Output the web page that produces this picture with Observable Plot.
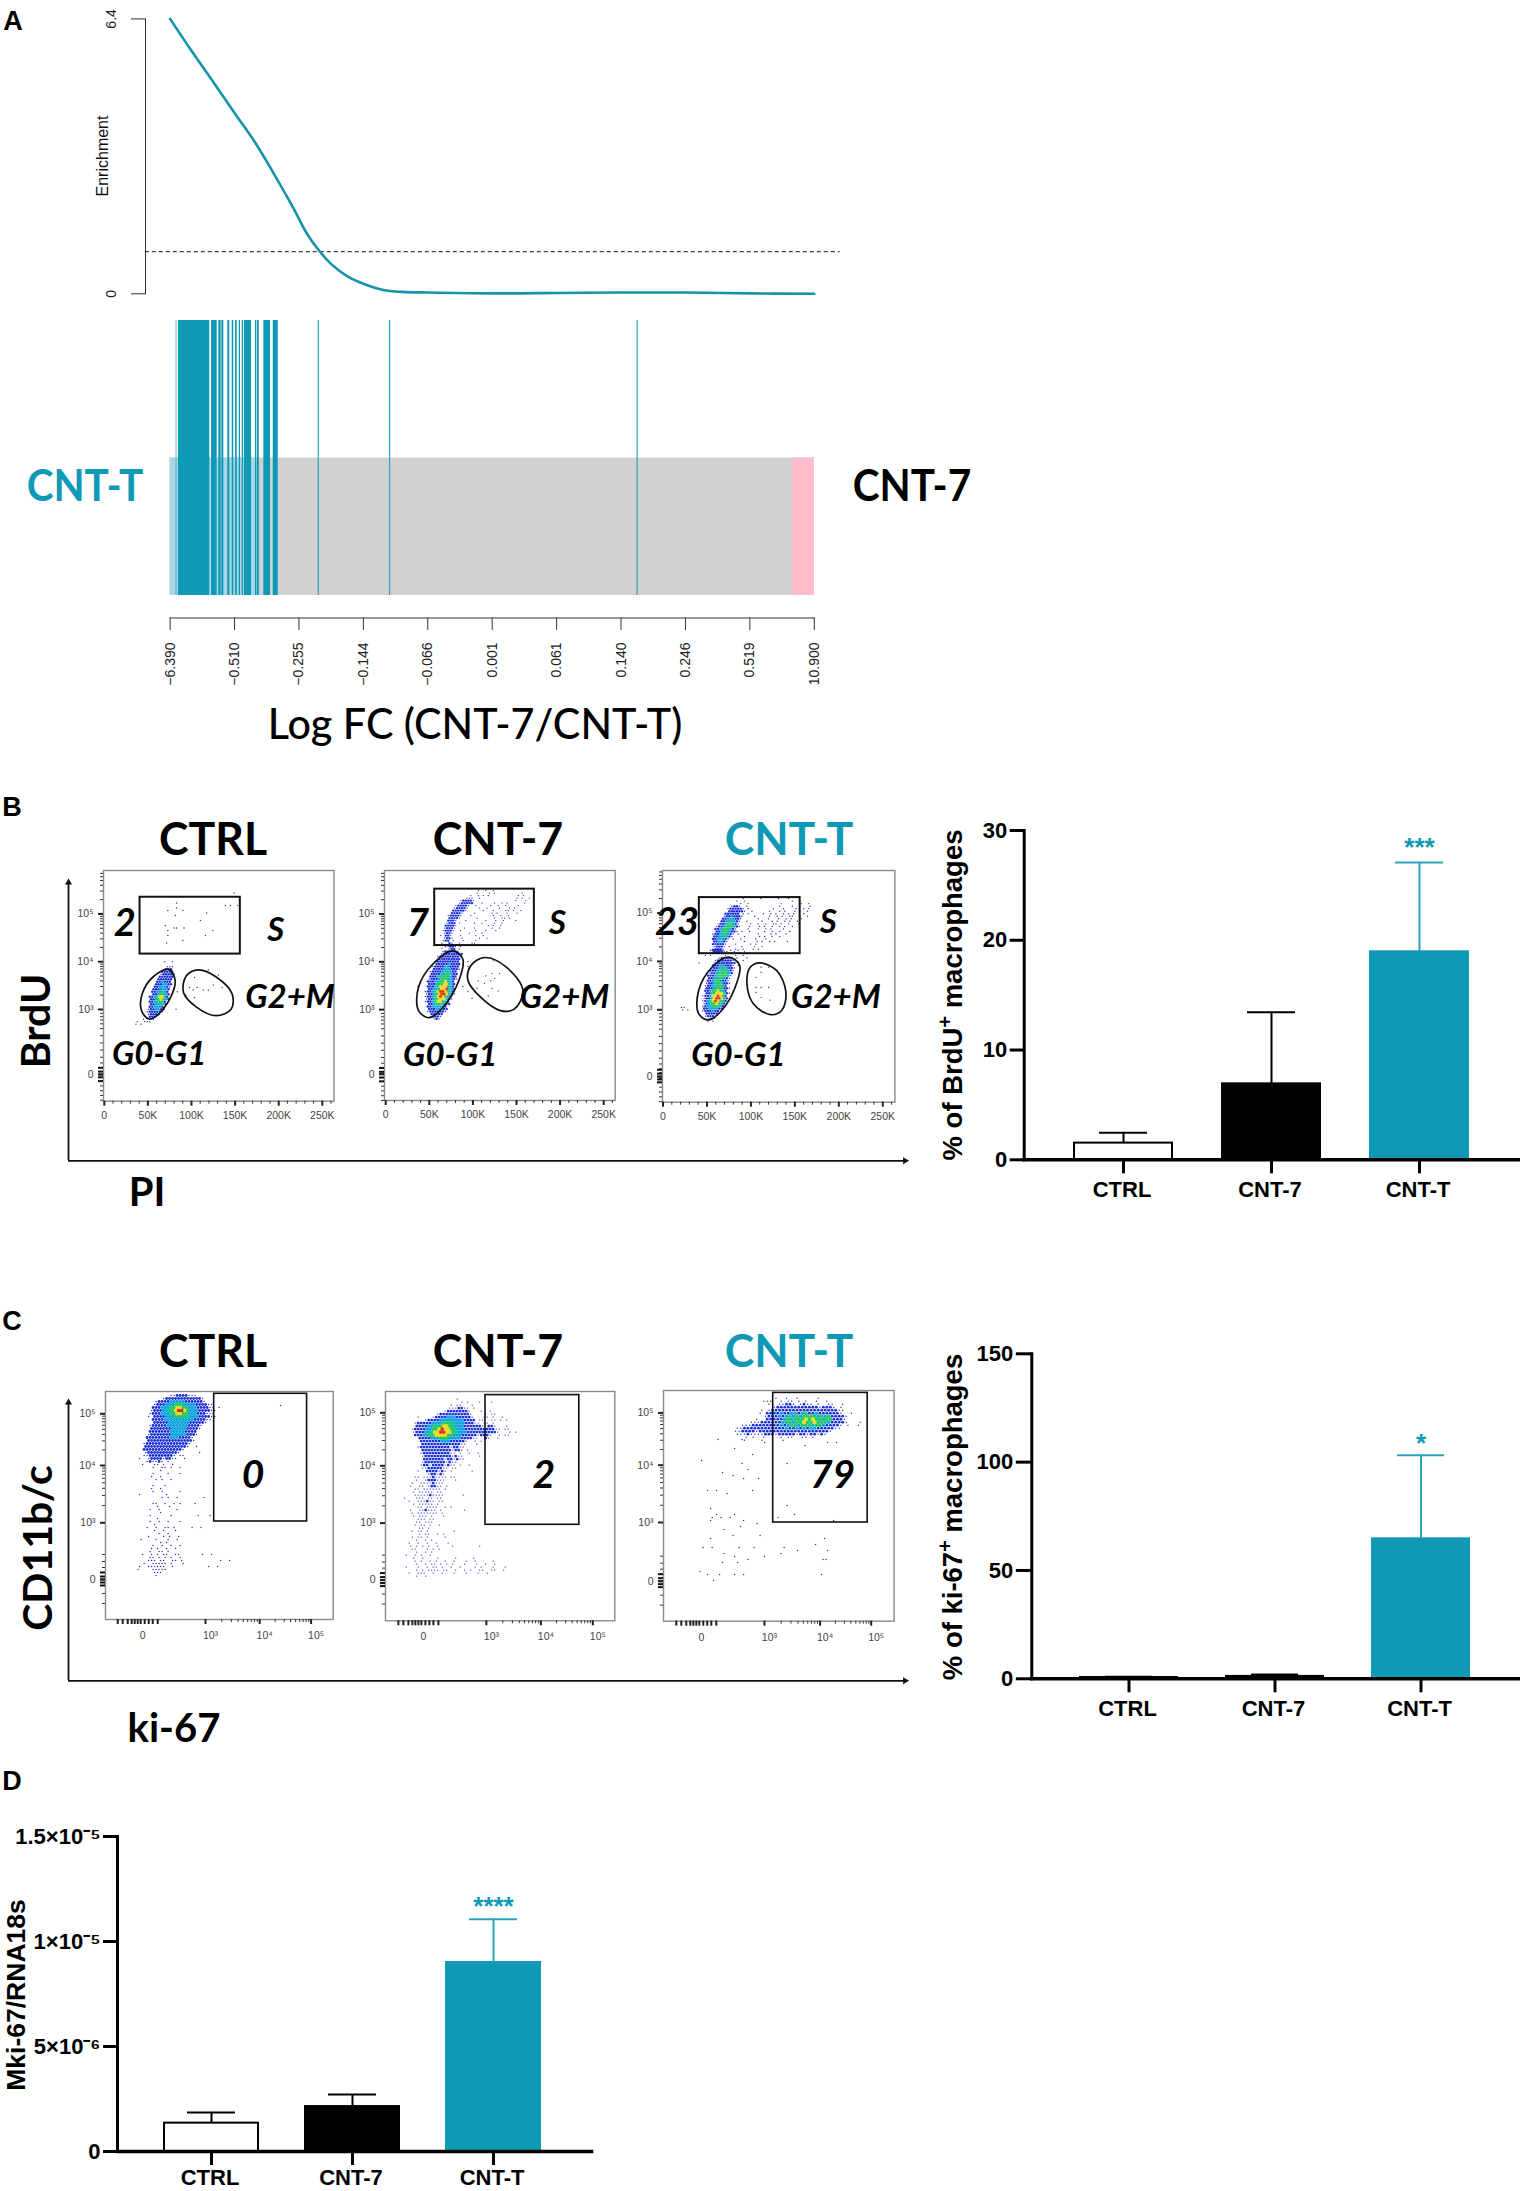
<!DOCTYPE html>
<html><head><meta charset="utf-8">
<script src="https://cdn.jsdelivr.net/npm/d3@7"></script>
<script src="https://cdn.jsdelivr.net/npm/@observablehq/plot@0.6"></script>
<style>
html,body{margin:0;padding:0;background:#fff;overflow:hidden}
#page{position:relative;width:1520px;height:2191px;overflow:hidden;background:#fff}
#page svg{position:absolute;overflow:visible;background:transparent}
.t{position:absolute;white-space:nowrap;line-height:1;transform-origin:center}
sup{font-size:.72em;line-height:0}
</style></head><body><div id="page"></div>
<script>
const TEAL="#0f99b4", SANS="Liberation Sans", HEAD="Lato";
/* ---------- panel A data ---------- */
const enrichRank=[0,3.4,6.8,10,13.3,16.2,19.2,21.2,23.2,25.1,27.6,30.1,33.1,36,40,50,60,70,80,90,100];
const enrichValue=[6.4,5.64,4.91,4.21,3.5,2.77,1.98,1.41,.99,.68,.4,.23,.09,.045,.03,.01,.02,.03,.03,.01,0];
const enrichTicks=[0,6.4], enrichCutoff=.98;
const barcodeStart=[.95,1.3,6.43,7.56,8.03,8.96,9.64,10.16,10.73,11.2,11.55,13.26,13.52,14.55,16.01];
const barcodeEnd=[1.05,6.16,7.31,7.93,8.34,9.27,9.89,10.42,10.93,11.4,12.64,13.42,13.84,15.59,16.79];
const barcodeThin=[23,34.07,72.5];
const rankTicks=[0,10,20,30,40,50,60,70,80,90,100];
const rankLabels=["−6.390","−0.510","−0.255","−0.144","−0.066","0.001","0.061","0.140","0.246","0.519","10.900"];
/* ---------- bar chart data ---------- */
const groups=["CTRL","CNT-7","CNT-T"], groupFill=["#ffffff","#000000",TEAL], groupLine=["#000000","#000000",TEAL], errLine=["#000000","#000000","#2aa3bb"];
const brduMean=[1.52,6.92,18.95], brduErr=[2.46,13.45,27.09], brduStars=["","","***"];
const kiMean=[.6,1.1,64.6], kiErr=[.9,2,103.2], kiStars=["","","*"];
const mkiMean=[1.35e-6,2.14e-6,9e-6], mkiErr=[1.86e-6,2.71e-6,1.106e-5], mkiStars=["","","****"];
const mkiTicks=[0,5e-6,1e-5,1.5e-5], mkiTickLabels=["0","5×10⁻⁶","1×10⁻⁵","1.5×10⁻⁵"];
/* ---------- flow cytometry: PI (K) / BrdU (decades) ---------- */
const piTicks=[0,50,100,150,200,250];
const piMinor=[10,20,30,40,60,70,80,90,110,120,130,140,160,170,180,190,210,220,230,240,260];
const b1S=[{x:41.3,y:5.49,rows:["","                                     .","","","",
"              .","                                  . .  .","              .","           .     .","                          .","              .","",
"                        .","","          .","             ..  .","           .                 .","","           .              .","","                 .","          ."]},
{x:92,y:3.88,rows:["","         .","","             .","    .","","","           .","  .  .         .","   .   . .","","."
,"    ."]},
{x:34.9,y:4.0,rows:["            .  .","","             ...","            bbb","           bbbbb","          .bbbbb","          bbbbbb","         bbbbbb","         bbcbbb","        bbbccbb","        bbcccb.","       bbbcccb","       bbccgcb   .","       bbcggcb","      bbcgyycb","      bbcgygcb","      bbcgggb","      bbccgcb","      bbcccb","     .bbccbb    .","     .bbbbb.","     .bbbb","      bbb","   .   .",
" .  ...",". ."]}];
const b2S=[{x:54.5,y:5.49,rows:[
"                  .  .  .","                 .    . .          .","               .  . . .           . .","             ...  .              . .  .","           .bbbb.                .   .","          .bbbbb   .    .  . .      .","         .bbbb.  .     .  .  .    .","        .bbbb.    .  .    .   . .","        bbbbb.      .   .    .. .  .","       bbbb.    .      . .   .   .","      .bbbb.   .        .  .  .","      bbbb.      .      .  .. .","      bbb.   .       .   .  .    .","     .bbb .     .  .    .  .","     bbbb.            . .  .","    .bbb.   .   .      .  .","    .bbb.  .     .   .   .","    .bb.      .    .","   . bb.   .     .  .","    .bb.   .      .  .","    .bb .   .    .","   .  b.  .    ..","     .b.  .","   ."]},
{x:34,y:4.32,rows:["            . bb. .","             .bb .","           .bbbbb.","          .bbbbbbbb","         .bbbbbbbb.","         bbbbbbbbb","        .bbbbbbbbb   .","        bbbbbcbbbb","       .bbbbccbbbb   .","       bbbbcccbbb.","      .bbbbcgccbb","      bbbbccggcbb","      bbbcggggcbb","     .bbbcgggccb.","     bbbccggyccb","     bbbcggyygcb"," .   bbbcgyyyccb   .","     bbccgyyrgcb","    .bbcgyrrygcb     .","    .bbcgyrrygb.","    .bbcgyrygcb","    .bbcgyyycb.","    .bbcgyygcb","     bbcgggcbb","     bbcccccb","     bbbcccbb","     .bbbbbb.","      bbbbb","      .bbb.","       .b."]},
{x:97.5,y:4.02,rows:["         .","","","","","        .  .","      .","         .","   .    .","     .","","  .     .","           .","","       .",". "]}];
const b3S=[{x:42.4,y:5.3,rows:["                 .      .      .   .","              .  .                  .  .","                .  .            .       .  .","            .bb.  .            .    .  .   .","           .bbbbb. .         .   .    .  . .","           bbbbbb.  .      .   . .   . .  .","          bbbbbb . .     .  . .  . . .   .","         .bbcbbb.    .     .  . .  ..  .  .","         bbcccbb.      .   .   .  . .   .","        bbccgcb.  .     .   . .  . .  .","       .bbcggcb.    .  .  .  .. .  .   .","      .bbcgggcb.   .   . .  .  . .  .","      bbcgggcb.    .   .  . .    .","      bbcggcbb. .  .     .  .  .   .","     .bbcggcb. .       .    . .   .","     bbccgcb.    .     . .  .  .","     bbcccb. .  .     .   .","     bbccb.      .    . .  . .    .","     bbbbb.   .     . .","     .bbb. .    .    .  .","     .bbb.    .  .   . .","     bbbb..  .   ."]},
{x:36.7,y:4.23,rows:["      .bbbb.  .  .","      .bb.    . ..","    . .     .   .  .","         .bbbb. .   .","        .bbbbbb.   .",
" .     .bbbbbbbb","       bbbccbbb. .","      .bbccgcbb.","      bbbcgggcb.","     .bbcggggcb","     bbbcggggc.","     bbccggcb.","     bbcggcbb.","    .bbcgggbb.","    .bbcgggcb","    bbbcgggbb.","    bbcggygcb","    bbcgyyygb.","   .bbcyyrygb","   .bbgyrrygb","   .bcgyrygcb.","   .bcggyggb","   .bccgggcb","   bbccgcbb","   .bbbcbb.","    bbbbb","    .bbb.","     .b.","     . ."]},
{x:21,y:3.05,rows:["..",". ."]},
{x:103,y:3.88,rows:["   .  .","","   .",""," .","","",""," . .  .",""," .","","   .","      ."]}];
/* ---------- flow cytometry: ki-67 / CD11b (display channels) ---------- */
const c1S=[{x:29.6,y:224,rows:["            ..bbbb...","         .bbbbbbbbbbbb.","       .bbbbcccccbbbbbb.","      .bbbcccgggccccbbbb..","      bbbcccggyyggcccbbbb.. .","     .bbbccggyrrygcccbbbb..","     .bbbcccggyyggcccbbb...","    . bbbbcccgggggcccbbbb..","      bbbbccccccccccbbbb..","      bbbbbcccccccbbbbb.","     .bbbbbcccccccbbbb.","     bbbbbbbcccccbbbb.","     bbbbbbbcccccbbbb","    .bbbbbbbcccccbbb.","    bbbbbbbbcccbbbb.","    bbbbbbbbbbbbbbb.","   .bbbbbbbbbbbbbb.","   bbbbbbbbbbbbbb.  .","   bbbbbbbbbbbbb.","   .bbbbbbbbbb.      .","   ..bbbbbbbb. ..",
" .  .bbbb.bb..  .","    .b..b. .","  .   .. .  .","      .  .. .  .","        .","      .    .   .","     .  .","       . .  .","","      .   .","     .  .","      .  .     .",
" .        .","         . .  .        .","","      ..  .  . .    .","       .   .","     .  .     .","        .","     .      .        .   .","       .","     .  .  .   .","      .","    .  .  .. .     .  .","      .  .   .","        .  .","    .    . .  .","  .    .   .  .","        . .","      .  .  .  .","     . .  .  .","     .  .. .","  .  . . ..  ..       .  .","     .. . . .  .","    ... ..  .. .            .  .","   .  ..... .   .",
" .  ......  .           .  .",
" .    .....","      ...","       ."]},{x:175,y:214,rows:["."]}];
const c2S=[{x:14.7,y:221.7,rows:["                   .","                    . .   .   .","                 . ..   .","                ...bb.. .","               .bbbbbbb.   .  .","            .bbbbbbbbbb.    . ..","      .    .bbbbcccbbbbb.   .. .  .","        .bbbbccccccccbbbb ..  .. . .","     .bbbbbcccggggccccbbb.. .. .","     bbbbccgggyyggcccbbbbbb. bb.   .","    .bbbbccggyryyggcccbbbbbbbbbb.. ..","    .bbbccgyyrryyggcccbbbbbbbbbb.   . .","     bbbccggyyyyggcccbbbbb.bbb.  . ..","      bbbbcccgggccccbbbb..  b.  .","       bbbbbbbcccbbbbb.  . .","       bbbbbbbbbbbbb..   .","      .bbbbbbbbbb.bb..","       bbbbbbbbbb.bb. .","       .bbbbbbbbb.. .  .  .","       .bbbbbbbbb.b..     .","        bbbbbbb.bb.b..","       .bbbbbbb.b..","       .bb.bbbb.b.. .  .","       ..bbbbb.. ..","      .  bbbb.b. .      .","         .bb.b.","     .. ...b.... ..","     .  .bbb...   .","    .  ....b...","   .  .. .bb.. .","     .. ...... .","    . ..... ..","     .....b....      ."," .   ... .. ..","   .  ...b.. ..","    . ..... .","      .. ....  . .","   .  ..b... .       .","    . ....... .","    . ... .   .","      ... ..","     .. ...","     . .. .  .","      .. .","    . .. .        .","      . ..  . .","    . .. .     .","     .  . .","   .  .  .  .   .","   . . . .  .    .        .","    ..   . . .","     .  . .","  .  . .  .","    .  .    .     .     .","     . .  . .  .  .   .  .     .","     .  . .. . . .   .   .  .  .","  .   .  . .. .  .  .    . .   .   .","     . . .... ..  .  . .  ..  ..  .","   .  ...  .  .   .   .   .  .","     .  ."]}];
const c3S=[{x:68.6,y:226,stretch:1.17,rows:["","            .  .  .     .","         ...  . .. . .  .  .","          .. ..bb. .b.. .  ..  .","            .bbbbbbbbbbbb.bbb. .","        . .bbbbbbbbbbbbbbbbbbb..","        . bbbbcbbccbcgbbcbbbbbb.  .","         .bbbcbcgcgcggggcgcgbbbb.","       .  bbbbbcgcgggygyggcggbbb.","     ...bbbbbbcggcggyggygggcbbbb.   .","   ...bbbbbbbbcbcggcgggcggcbbbb. .  ."," ..bbbbbbbbbbbbcbbcbcbccbbbbb.."," ..bbbb.bbbbbbbbbbbbbbbbbbbb."," ...b....bbb.bbbbb.bb.bb.b.","    . .  .    . ..  .. .","   .    .     ."]},
{x:27.6,y:187.7,rows:["","","         .       .","                        .                    .  .","                                      .","              .","","                    .","","   .","                 .              .","","                   .","          .","              .","                 .    .","","","","     .  .           .","            .","","","","                                .","      .","","        .     .                   .","       .  .  .               .","      .          .                             .","                      .","                .","           .","","              .        .","      .                                     .","","                                         .","    .  .        .    .         .","                                   .         .","           .                  .","              .         .","                   .                        ..","          .    .","","","   .","     .   .    .  .                         .","","       ."]}];
/* ---------- flow cytometry gates ---------- */
const gates={
 b1:{rect:[41,156,4.16,5.35],
  g0:[[73.9,3.84],[81.2,3.61],[76.2,3.26],[60.3,2.87],[51.2,2.8],[42.6,2.98],[43.5,3.33],[55.8,3.68]],
  g2:[[107.9,3.83],[128.3,3.68],[146.5,3.33],[145.6,3.01],[128.3,2.87],[105.7,3.05],[90.7,3.36],[94.3,3.71]]},
 b2:{rect:[56.2,170.5,4.34,5.52],
  g0:[[77.1,4.23],[88.4,4.06],[83.9,3.61],[65.8,3.05],[49.9,2.83],[37.6,2.98],[37.6,3.47],[54.4,3.96]],
  g2:[[113.4,4.09],[138.3,3.89],[157.4,3.4],[147.4,3.01],[131.5,2.98],[108.8,3.26],[94.3,3.61],[97.5,3.92]]},
 b3:{rect:[41.3,156,4.16,5.32],
  g0:[[74.6,4.09],[87.1,3.92],[82.2,3.47],[67,2.99],[51.9,2.79],[40.5,2.92],[40.5,3.4],[55.7,3.88]],
  g2:[[110.6,3.97],[129.5,3.81],[139.8,3.37],[135.2,2.99],[122,2.9],[103,3.12],[95.5,3.54],[99.2,3.88]]},
 c1:{rect:[108.7,201.6,98,225.7]}, c2:{rect:[100,193.8,96,225.7]}, c3:{rect:[109.7,204.2,98.7,228.3]}
};
const b1Notes=[["2",23.4,4.79,38],["S",196.6,4.66,33],["G2+M",213,3.25,33],["G0-G1",63,2.05,33]];
const b2Notes=[["7",37,4.8,38],["S",197,4.8,33],["G2+M",205,3.25,33],["G0-G1",74,2.05,33]];
const b3Notes=[["23",16,4.8,38],["S",188,4.8,33],["G2+M",196.6,3.25,33],["G0-G1",85.7,2.05,33]];
const c1Notes=[["0",147.5,144,39]], c2Notes=[["2",158.3,145,39]], c3Notes=[["79",169,146,39]];

const page=document.getElementById("page");
function place(svg,left,top){svg.style.left=left+"px";svg.style.top=top+"px";page.appendChild(svg);return svg;}
function label(html,cx,cy,size,o={}){
  const d=document.createElement("div");d.className="t";d.innerHTML=html;
  d.style.cssText+=`left:${cx}px;top:${cy}px;font-size:${size}px;font-family:'${o.family||HEAD}',sans-serif;font-weight:${o.weight||700};color:${o.color||"#000"};transform:translate(-50%,-50%) rotate(${o.rotate||0}deg) scaleX(${o.sx||1});`;
  page.appendChild(d);
}
const blank=()=>"";
/* ---------- panel A ---------- */
const curve=enrichRank.map((r,i)=>({r,v:enrichValue[i]}));
place(Plot.plot({width:860,height:300,marginLeft:145,marginRight:16,marginTop:18.4,marginBottom:6.7,
  x:{domain:[0,100],range:[169.6,813.8],axis:null},y:{domain:[0,6.4]},
  style:{fontFamily:SANS,background:"transparent"},
  marks:[
   Plot.axisY({ticks:enrichTicks,tickSize:14,tickPadding:16,tickRotate:-90,fontSize:14,stroke:"#333",color:"#222",label:null,tickFormat:d=>d===0?"0":"6.4"}),
   Plot.frame({anchor:"left",stroke:"#333",strokeWidth:1}),
   Plot.ruleY([enrichCutoff],{x1:-3.85,x2:104,stroke:"#111",strokeWidth:1,strokeDasharray:"4,3"}),
   Plot.line(curve,{x:"r",y:"v",stroke:"#1593a8",strokeWidth:2.6,curve:"catmull-rom"})
  ]}),0,0);
const segs=barcodeStart.map((s,i)=>({s,e:barcodeEnd[i]}));
place(Plot.plot({width:860,height:700,marginLeft:169.6,marginRight:46.2,marginTop:320,marginBottom:82.5,
  x:{domain:[0,100],range:[169.6,813.8],axis:null},y:{domain:[0,1],range:[595,320],axis:null},
  style:{fontFamily:SANS,background:"transparent"},
  marks:[
   Plot.rect([0],{x1:0,x2:100,y1:0,y2:.5,fill:"#d1d1d1"}),
   Plot.rect([0],{x1:0,x2:14,y1:0,y2:.5,fill:"#a9d6e3"}),
   Plot.rect([0],{x1:96.7,x2:100,y1:0,y2:.5,fill:"#ffbccb"}),
   Plot.rect(segs,{x1:"s",x2:"e",y1:0,y2:1,fill:TEAL}),
   Plot.ruleX(barcodeThin,{y1:0,y2:1,stroke:"#2f9fc0",strokeWidth:1.2}),
   Plot.frame({anchor:"bottom",stroke:"#333",strokeWidth:1}),
   Plot.axisX({ticks:rankTicks,tickSize:12.5,tickPadding:12,tickRotate:-90,fontSize:14,stroke:"#333",color:"#222",label:null,
     tickFormat:d=>rankLabels[rankTicks.indexOf(d)]})
  ]}),0,0);
label("A",13,21,27,{family:SANS});
label("CNT-T",84.5,484,44,{color:TEAL,sx:.92});
label("CNT-7",912,484,44,{sx:.92});
label("Log FC (CNT-7/CNT-T)",475,722,43,{weight:500,sx:.96});
label("Enrichment",103,156,16,{family:SANS,weight:400,rotate:-90,color:"#111"});
/* ---------- bar charts ---------- */
function bars(o){
 const rows=groups.map((g,i)=>({g,v:o.mean[i],e:o.err[i],f:groupFill[i],l:groupLine[i],q:errLine[i],s:o.stars[i]}));
 return place(Plot.plot({width:o.w,height:o.h,marginLeft:o.ml,marginRight:o.mr,marginTop:o.mt,marginBottom:o.mb,
  x:{type:"band",domain:groups,range:o.xr,paddingInner:o.pad,paddingOuter:0,align:0,axis:null},
  y:{domain:o.dom,axis:null},color:{type:"identity"},
  style:{fontFamily:SANS,background:"transparent"},
  marks:[
   Plot.barY(rows,{x:"g",y:"v",fill:"f",stroke:"l",strokeWidth:2}),
   Plot.ruleX(rows,{x:"g",y1:"v",y2:"e",stroke:"q",strokeWidth:2}),
   Plot.tickY(rows,{x:"g",y:"e",stroke:"q",strokeWidth:2,insetLeft:o.cap,insetRight:o.cap}),
   Plot.text(rows.filter(r=>r.s),{x:"g",y:"e",text:"s",dy:o.sdy,fill:TEAL,fontSize:26,fontWeight:700}),
   Plot.frame({anchor:"left",stroke:"#000",strokeWidth:3}),
   Plot.frame({anchor:"bottom",stroke:"#000",strokeWidth:3.5}),
   Plot.axisY({ticks:o.ticks,tickSize:o.ts,tickPadding:3,strokeWidth:3,stroke:"#000",color:"#000",fontSize:22,fontWeight:700,label:null,
     tickFormat:o.fmt}),
   Plot.axisX({tickSize:14,tickFormat:blank,strokeWidth:3,stroke:"#000",label:null}),
   Plot.axisX({tickSize:0,tickPadding:o.lp,dx:-1.5,color:"#000",fontSize:22,fontWeight:700,label:null})
  ]}),o.left,o.top);
}
bars({left:930,top:800,w:590,h:420,ml:93.7,mr:1.6,mt:30,mb:60.7,xr:[144,538],pad:.338,cap:25,sdy:-15,lp:22,dom:[0,30],ticks:[0,10,20,30],ts:14,fmt:d=>d,mean:brduMean,err:brduErr,stars:brduStars});
bars({left:930,top:1330,w:590,h:420,ml:101.3,mr:0,mt:23.3,mb:71.7,xr:[149.5,539],pad:.336,cap:25,sdy:-12,lp:22,dom:[0,150],ticks:[0,50,100,150],ts:15.5,fmt:d=>d,mean:kiMean,err:kiErr,stars:kiStars});
bars({left:0,top:1800,w:620,h:391,ml:117,mr:29,mt:36,mb:40,xr:[164,541.7],pad:.331,cap:23,sdy:-13,lp:18,dom:[0,1.5e-5],ticks:mkiTicks,ts:14,fmt:d=>mkiTickLabels[mkiTicks.indexOf(d)],mean:mkiMean,err:mkiErr,stars:mkiStars});
label("% of BrdU<sup>+</sup> macrophages",953,995,27.5,{family:SANS,rotate:-90});
label("% of ki-67<sup>+</sup> macrophages",953,1517,27.5,{family:SANS,rotate:-90});
label("Mki-67/RNA18s",16,1995,26.5,{family:SANS,rotate:-90});
/* ---------- flow plots ---------- */
const COL={".":"#2e2ec0",b:"#1b2fd6",c:"#12a5e0",g:"#22c76a",y:"#e6dc1e",r:"#e8301a"};
function cells(grids,dx,dy){
 const out=[];
 for(const g of grids) g.rows.forEach((s,r)=>[...s].forEach((c,k)=>{
   if(c!==" ") out.push({x:g.x+(k+(r%2)*.5)*dx*(g.stretch||1),y:g.y-r*dy,c});
 }));
 return out;
}
function flow(o){
 const pts=cells(o.grids,o.dx,o.dy), g=o.gate, notes=o.notes.map(n=>({t:n[0],x:n[1],y:n[2],s:n[3]}));
 const W=o.fr-o.fl, H=o.fb-o.ft, M=44;
 const closed=a=>a.map(p=>({x:p[0],y:p[1]}));
 const marks=[
  Plot.frame({stroke:"#8a8a8a",strokeWidth:1.4}),
  ...Object.keys(o.rad).map(l=>Plot.dot(pts.filter(p=>p.c===l),{x:"x",y:"y",r:o.rad[l],fill:COL[l]})),
  Plot.rect([g.rect],{x1:d=>d[0],x2:d=>d[1],y1:d=>d[2],y2:d=>d[3],fill:"none",stroke:"#111",strokeWidth:o.gw}),
 ];
 if(g.g0) for(const e of [g.g0,g.g2]) marks.push(Plot.line(closed(e),{x:"x",y:"y",curve:"catmull-rom-closed",stroke:"#111",strokeWidth:1.7}));
 marks.push(
  Plot.text(notes,{x:"x",y:"y",text:"t",fontSize:"s",fontFamily:HEAD,fontWeight:700,fontStyle:"italic",fill:"#000"}),
  Plot.axisY({ticks:o.yMinor,tickSize:3,strokeWidth:1,stroke:"#333",tickFormat:blank,label:null}),
  Plot.axisY({ticks:o.yZero,tickSize:5,strokeWidth:2,stroke:"#111",tickFormat:blank,label:null}),
  Plot.axisY({ticks:o.yTicks,tickSize:5,strokeWidth:2,stroke:"#222",tickPadding:5,fontSize:10.5,color:"#444",label:null,tickFormat:d=>o.yLab[o.yTicks.indexOf(d)]}),
  Plot.axisX({ticks:o.xMinor,tickSize:3,strokeWidth:1,stroke:"#333",tickFormat:blank,label:null}),
  Plot.axisX({ticks:o.xMajor,tickSize:5,strokeWidth:2,stroke:"#222",tickFormat:blank,label:null}),
  Plot.axisX({ticks:o.xTicks,tickSize:0,tickPadding:o.xPad,dx:o.xdx,fontSize:10.5,color:"#444",label:null,tickFormat:d=>o.xLab[o.xTicks.indexOf(d)]})
 );
 return place(Plot.plot({width:W+2*M,height:H+2*M,marginLeft:M,marginRight:M,marginTop:M,marginBottom:M,
  x:{domain:o.xd,axis:null},y:{domain:o.yd,axis:null},style:{fontFamily:SANS,background:"transparent"},marks}),o.fl-M,o.ft-M);
}
const decMinor=[1.1,1.2,1.3,1.4,1.5,1.58,1.7,1.78,1.88,2,2.15,2.3,2.45,2.6,2.7,2.78,2.85,2.92,3.3,3.48,3.6,3.7,3.78,3.85,3.9,3.95,4.3,4.48,4.6,4.7,4.78,4.85,4.9,4.95,5.3,5.48,5.6,5.7,5.78,5.85];
const decTicks=z=>[z,3,4,5], decLab=["0","10³","10⁴","10⁵"];
const piBase={dx:2.87,dy:.0523,gw:2,rad:{".":.7,b:1.2,c:1.4,g:1.45,y:1.45,r:1.45},yMinor:decMinor,xMinor:piMinor,xMajor:piTicks,xTicks:piTicks,xLab:piTicks.map(d=>d?d+"K":"0"),xPad:10,xdx:0,yLab:decLab};
flow({...piBase,fl:102.8,fr:333.3,ft:870,fb:1100.7,xd:[-.9,263.4],yd:[1.08,5.91],yTicks:decTicks(1.64),yZero:[1.5,1.58,1.64,1.7,1.78],grids:b1S,gate:gates.b1,notes:b1Notes});
flow({...piBase,fl:384.3,fr:615,ft:870,fb:1100,xd:[-1.4,263.2],yd:[1.1,5.91],yTicks:decTicks(1.65),yZero:[1.5,1.58,1.65,1.7,1.78],grids:b2S,gate:gates.b2,notes:b2Notes});
flow({...piBase,fl:662.2,fr:894.6,ft:870,fb:1101.7,xd:[-.6,263.8],yd:[1.09,5.88],yTicks:decTicks(1.62),yZero:[1.5,1.56,1.62,1.68,1.76],grids:b3S,gate:gates.b3,notes:b3Notes});
function logMinor(t){const o=[];for(let i=1;i<t.length;i++)for(const k of [2,3,4,5,6,7,8,9])o.push(t[i-1]+(t[i]-t[i-1])*Math.log10(k));return o;}
const kiBase={dx:3,dy:3,gw:1.6,rad:{".":.7,b:1.4,c:1.8,g:1.85,y:1.85,r:1.85},yLab:decLab,xLab:decLab,xPad:12,xdx:5};
function kiPanel(o){
 const xm=[o.x[0]-20,o.x[0]-15,o.x[0]-10,o.x[0]-6,o.x[0]-3,o.x[0],o.x[0]+3,o.x[0]+7,o.x[0]+11,o.x[0]+15,o.x[0]+20];
 const ym=[o.y[0]-24,o.y[0]-14,o.y[0]-6,o.y[0]-3,o.y[0],o.y[0]+3,o.y[0]+7,o.y[0]+12,o.y[0]+18,o.y[0]+25];
 flow({...kiBase,...o,xd:[0,o.fr-o.fl],yd:[0,o.fb-o.ft],xTicks:o.x,yTicks:o.y,xMinor:[...logMinor(o.x.slice(1)),...xm],xMajor:[...o.x.slice(1),...xm],yMinor:[...logMinor(o.y.slice(1)),...ym],yZero:[o.y[0]-6,o.y[0]-3,o.y[0],o.y[0]+3,o.y[0]+7]});
}
kiPanel({fl:104.8,fr:332.5,ft:1391,fb:1619,x:[32.2,100,154.2,205.6],y:[40,96.7,154,205.7],grids:c1S,gate:gates.c1,notes:c1Notes});
kiPanel({fl:384.7,fr:614,ft:1390.7,fb:1620,x:[32.9,100.9,155.4,207.3],y:[40.7,97.7,155,208],grids:c2S,gate:gates.c2,notes:c2Notes});
kiPanel({fl:663.4,fr:894,ft:1390.3,fb:1621,x:[32.8,100.9,156.6,207.7],y:[40,98.7,156,208.3],grids:c3S,gate:gates.c3,notes:c3Notes});
/* ---------- big arrows ---------- */
function arrows(left,top,w,h){
 place(Plot.plot({width:w+20,height:h+20,marginLeft:10,marginRight:10,marginTop:10,marginBottom:10,
  x:{domain:[0,1],axis:null},y:{domain:[0,1],axis:null},style:{background:"transparent"},
  marks:[Plot.ruleX([0],{stroke:"#111",strokeWidth:1.8}),Plot.ruleY([0],{stroke:"#111",strokeWidth:1.8}),
   Plot.dot([[0,1]],{x:d=>d[0],y:d=>d[1],symbol:"triangle",r:2.6,fill:"#111"}),
   Plot.dot([[1,0]],{x:d=>d[0],y:d=>d[1],symbol:"triangle",rotate:90,r:2.6,fill:"#111"})]}),left-10,top-10);
}
arrows(68.4,881.7,836.6,278.3);
arrows(68.4,1401.7,836.6,278.3);
/* ---------- headers ---------- */
const headX=[212.5,498,788.7], headC=["#000","#000",TEAL];
[838,1349.5].forEach(y=>groups.forEach((g,i)=>label(g,headX[i],y,46,{color:headC[i],sx:.97})));
label("B",12,807,27,{family:SANS});
label("C",12,1321,27,{family:SANS});
label("D",12,1781,27,{family:SANS});
label("BrdU",33.6,1021,41,{rotate:-90});
label("PI",147,1191,40);
label("CD11b/c",36,1548,41,{rotate:-90});
label("ki-67",174,1727,40);
</script></body></html>
